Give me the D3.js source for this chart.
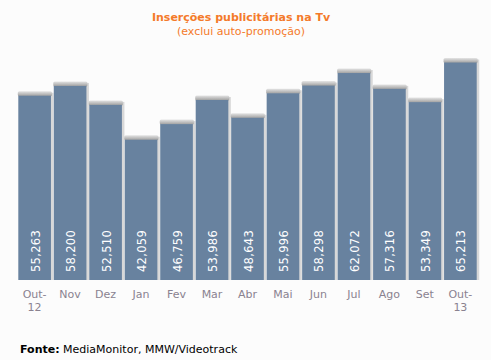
<!DOCTYPE html>
<html><head><meta charset="utf-8">
<script src="https://cdn.jsdelivr.net/npm/d3@7"></script>
<style>body{margin:0;background:#fcfcfc;}svg{display:block;}</style>
</head><body>
<script>
const categories = ["Out-12","Nov","Dez","Jan","Fev","Mar","Abr","Mai","Jun","Jul","Ago","Set","Out-13"];
const labels = [["Out-","12"],["Nov"],["Dez"],["Jan"],["Fev"],["Mar"],["Abr"],["Mai"],["Jun"],["Jul"],["Ago"],["Set"],["Out-","13"]];
const values = [55263,58200,52510,42059,46759,53986,48643,55996,58298,62072,57316,53349,65213];
const valueLabels = ["55,263","58,200","52,510","42,059","46,759","53,986","48,643","55,996","58,298","62,072","57,316","53,349","65,213"];

const W=491,H=360;
const svg=d3.select("body").append("svg").attr("width",W).attr("height",H);
svg.append("rect").attr("width",W).attr("height",H).attr("fill","#fcfcfc");
const defs=svg.append("defs");
const g1=defs.append("linearGradient").attr("id","cap").attr("x1",0).attr("y1",0).attr("x2",0).attr("y2",1);
g1.append("stop").attr("offset","0%").attr("stop-color","#e4e4e4");
g1.append("stop").attr("offset","100%").attr("stop-color","#9c9c9c");

const x=d3.scaleBand().domain(categories).range([18.3,476.7]).paddingInner(0.08).paddingOuter(0);
const y=d3.scaleLinear().domain([0,70000]).range([280,280-233.4]);

const font="Verdana, 'DejaVu Sans', sans-serif";

const bars=svg.append("g").selectAll("g").data(categories).join("g");
bars.append("rect")
  .attr("x",d=>x(d)+1)
  .attr("y",(d,i)=>y(values[i])-3)
  .attr("width",x.bandwidth()+1.5)
  .attr("height",(d,i)=>y(0)-y(values[i])+3)
  .attr("fill","#d8d8d8");
bars.append("rect")
  .attr("x",d=>x(d)-0.5)
  .attr("y",(d,i)=>y(values[i])-4.5)
  .attr("width",x.bandwidth()+1.5)
  .attr("height",5)
  .attr("rx",1.5)
  .attr("fill","url(#cap)");
bars.append("rect")
  .attr("x",d=>x(d))
  .attr("y",(d,i)=>y(values[i]))
  .attr("width",x.bandwidth())
  .attr("height",(d,i)=>y(0)-y(values[i]))
  .attr("fill","#68829f");
bars.append("text")
  .attr("transform",d=>`translate(${x(d)+x.bandwidth()/2+5},272) rotate(-90)`)
  .attr("font-family",font).attr("font-size",11.5).attr("fill","#ffffff")
  .attr("letter-spacing",0.3)
  .text((d,i)=>valueLabels[i]);

const xl=svg.append("g").selectAll("text").data(categories).join("text")
  .attr("x",d=>x(d)+x.bandwidth()/2)
  .attr("y",298)
  .attr("text-anchor","middle")
  .attr("font-family",font).attr("font-size",11).attr("fill","#8a8290");
xl.each(function(d,i){
  const t=d3.select(this);
  labels[i].forEach((s,j)=>t.append("tspan").attr("x",x(d)+x.bandwidth()/2).attr("dy",j===0?0:13).text(s));
});

svg.append("text").attr("x",241).attr("y",21).attr("text-anchor","middle")
  .attr("font-family",font).attr("font-size",11).attr("font-weight","bold").attr("fill","#f47a2a")
  .text("Inserções publicitárias na Tv");
svg.append("text").attr("x",241).attr("y",35).attr("text-anchor","middle")
  .attr("font-family",font).attr("font-size",11).attr("fill","#f47a2a")
  .text("(exclui auto-promoção)");

const f=svg.append("text").attr("x",20).attr("y",353).attr("font-family",font).attr("font-size",11).attr("fill","#000");
f.append("tspan").attr("font-weight","bold").text("Fonte:");
f.append("tspan").text(" MediaMonitor, MMW/Videotrack");
</script>
</body></html>
